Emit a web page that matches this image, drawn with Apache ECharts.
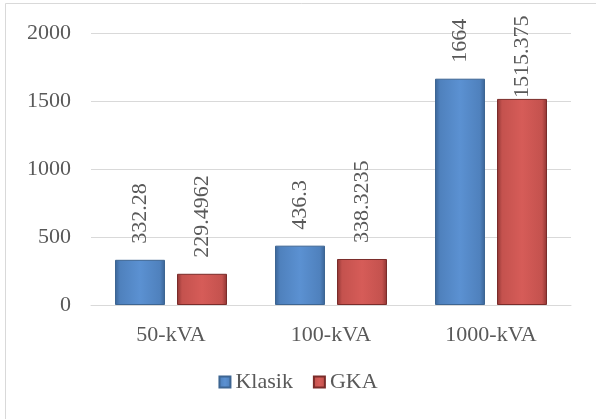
<!DOCTYPE html>
<html>
<head>
<meta charset="utf-8">
<script src="https://cdn.jsdelivr.net/npm/echarts@6/dist/echarts.min.js"></script>
<style>
  html, body { margin: 0; padding: 0; background: #fff; }
  #chart { width: 596px; height: 419px; }
</style>
</head>
<body>
<div id="chart"></div>
<script>
// Transformer ratings and the two cost series
const categories = ['50-kVA', '100-kVA', '1000-kVA'];
const klasikValues = [332.28, 436.3, 1664];
const gkaValues = [229.4962, 338.3235, 1515.375];
const seriesNames = ['Klasik', 'GKA'];
const yTicks = [0, 500, 1000, 1500, 2000];

const FONT = 'Liberation Serif';
const TEXT = '#595959';
const SIZE = 22;

function bevel(light, mid, dark) {
  return {
    type: 'linear', x: 0, y: 0, x2: 1, y2: 0,
    colorStops: [
      { offset: 0, color: dark },
      { offset: 0.1, color: mid },
      { offset: 0.5, color: light },
      { offset: 0.9, color: mid },
      { offset: 1, color: dark }
    ]
  };
}

const blueFill = bevel('#5b91d2', '#4f81bd', '#3a6395');
const redFill = bevel('#d65c58', '#c4524e', '#8e3533');

const labelStyle = {
  show: true,
  position: 'top',
  rotate: 90,
  align: 'left',
  verticalAlign: 'middle',
  distance: 16,
  fontFamily: FONT,
  fontSize: SIZE,
  color: TEXT,
  formatter: p => String(p.value)
};

// The tallest red label is pulled down so it stays inside the chart frame
const gkaData = gkaValues.map((v, i) =>
  i === 2 ? { value: v, label: { distance: 1 } } : v
);

const chart = echarts.init(document.getElementById('chart'), null, { renderer: 'canvas' });
chart.setOption({
  animation: false,
  backgroundColor: '#fff',
  textStyle: { fontFamily: FONT },
  graphic: [{
    type: 'rect',
    shape: { x: 5.5, y: 3.5, width: 620, height: 440 },
    style: { fill: 'none', stroke: '#d9d9d9', lineWidth: 1 },
    silent: true
  }],
  grid: { left: 91, right: 25, top: 33, bottom: 114 },
  legend: {
    bottom: 21,
    left: 'center',
    itemWidth: 11,
    itemHeight: 11,
    itemGap: 20,
    icon: 'rect',
    formatter: name => '{t|' + name + '}',
    textStyle: {
      fontFamily: FONT, fontSize: SIZE, color: TEXT,
      rich: { t: { fontFamily: FONT, fontSize: SIZE, color: TEXT } }
    },
    data: seriesNames
  },
  xAxis: {
    type: 'category',
    data: categories,
    axisLine: { lineStyle: { color: '#d9d9d9', width: 1 } },
    axisTick: { show: false },
    axisLabel: { fontFamily: FONT, fontSize: SIZE, color: TEXT, margin: 19 }
  },
  yAxis: {
    type: 'value',
    min: yTicks[0],
    max: yTicks[yTicks.length - 1],
    interval: yTicks[1] - yTicks[0],
    axisLine: { show: false },
    axisTick: { show: false },
    splitLine: { lineStyle: { color: '#d9d9d9', width: 1 } },
    axisLabel: {
      fontFamily: FONT, fontSize: SIZE, color: TEXT, margin: 20,
      formatter: v => String(v)
    }
  },
  series: [
    {
      name: seriesNames[0],
      type: 'bar',
      data: klasikValues,
      barWidth: 50,
      barGap: '24%',
      itemStyle: { color: blueFill, borderColor: '#3d6592', borderWidth: 1 },
      label: labelStyle
    },
    {
      name: seriesNames[1],
      type: 'bar',
      data: gkaData,
      barWidth: 50,
      itemStyle: { color: redFill, borderColor: '#7a2c2a', borderWidth: 1 },
      label: labelStyle
    }
  ]
});
</script>
</body>
</html>
